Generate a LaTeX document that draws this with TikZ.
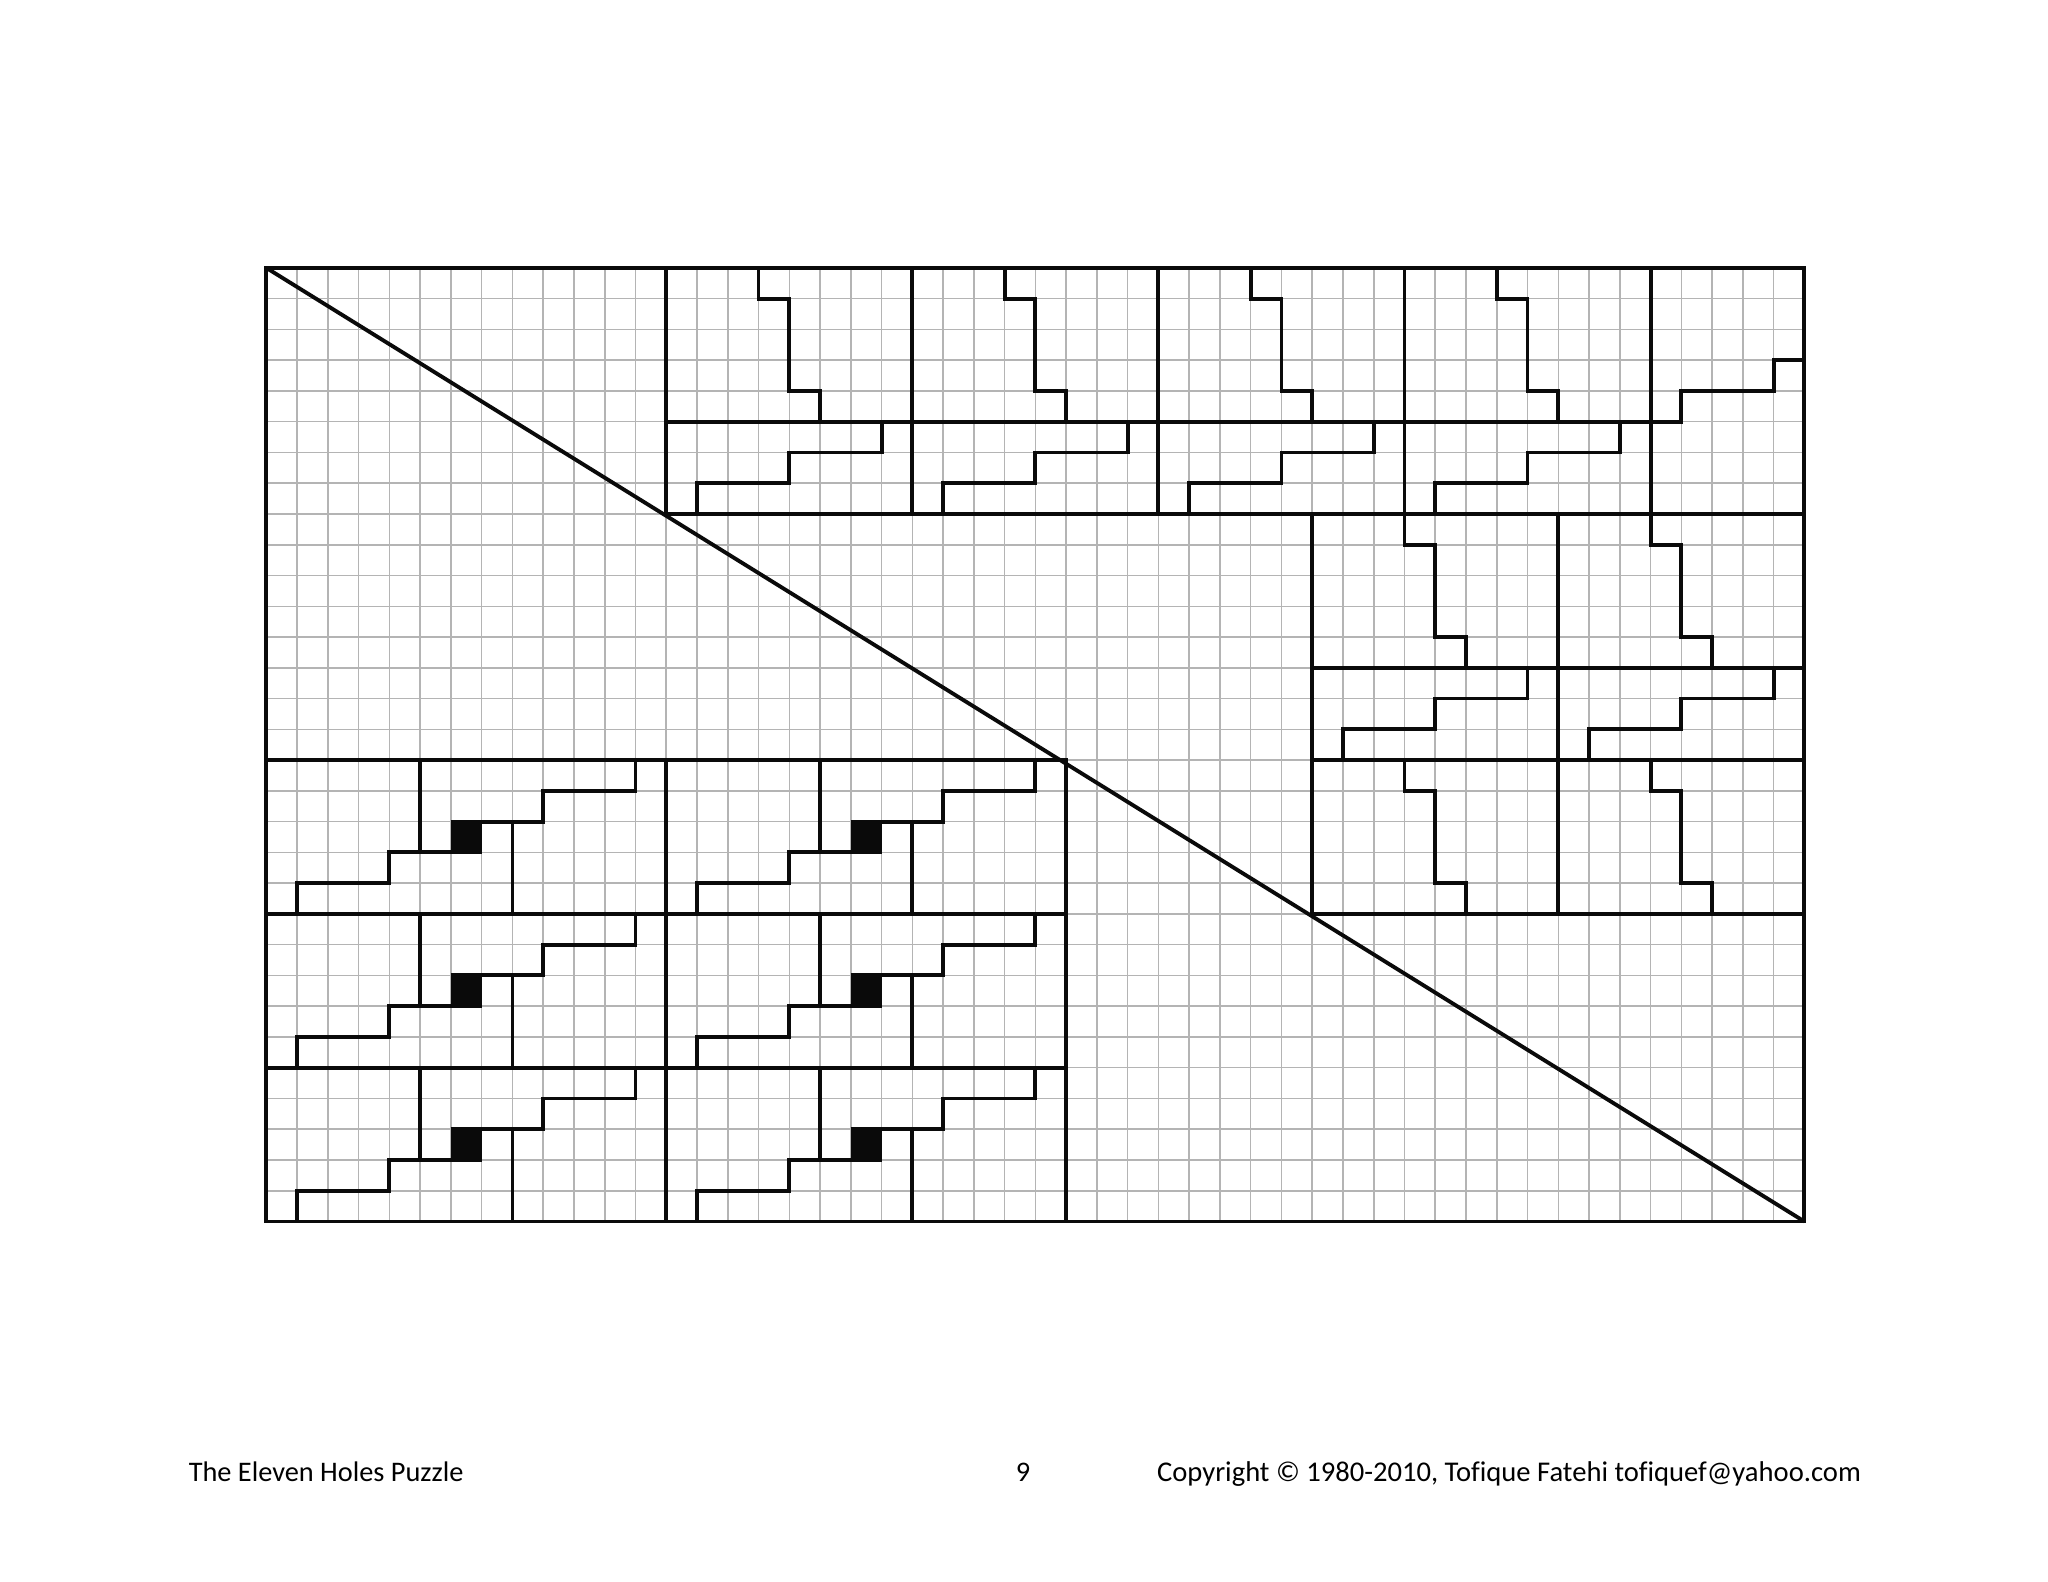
\documentclass[tikz,border=0pt]{standalone}
\usepackage{fontspec}
\setmainfont{Carlito}[Ligatures=CommonOff]
\usepackage{tikz}
\usepackage{xcolor}
\definecolor{gridcolor}{RGB}{180, 180, 180}
\definecolor{cutcolor}{RGB}{10, 10, 10}

\tikzset{
  gridline/.style={gridcolor, line width=0.6pt},
  cutline/.style={cutcolor, line width=1.5pt, line join=miter},
  footertext/.style={anchor=base west, inner sep=0pt, font=\fontsize{11}{13}\selectfont},
}

\begin{document}
\begin{tikzpicture}[x=0.4196cm, y=-0.4196cm]

  \useasboundingbox (-8.66,-8.71) rectangle (57.92,42.72);
  \fill[white] (-8.66,-8.71) rectangle (57.92,42.72);

  % ---------- Squared paper ----------
  \foreach \i in {0,...,50} \draw[gridline] (\i,0) -- (\i,31);
  \foreach \j in {0,...,31} \draw[gridline] (0,\j) -- (50,\j);

  % ---------- Board and diagonal cut ----------
  \draw[cutline] (0,0) rectangle (50,31);
  \draw[cutline] (0,0) -- (50,31);

  % ---------- Top strip: four 8x8 pieces ----------
  \foreach \bx in {13,21,29,37} {
    \begin{scope}[shift={(\bx,0)}]
      \draw[cutline] (0,0) rectangle (8,8);
      \draw[cutline] (0,5) -- (8,5);
      \draw[cutline] (3,0) -- (3,1) -- (4,1) -- (4,4) -- (5,4) -- (5,5);
      \draw[cutline] (1,8) -- (1,7) -- (4,7) -- (4,6) -- (7,6) -- (7,5);
    \end{scope}
  }
  % end piece
  \draw[cutline] (45,0) rectangle (50,8);
  \draw[cutline] (45,5) -- (46,5) -- (46,4) -- (49,4) -- (49,3) -- (50,3);

  % ---------- Right column: two 8x13 pieces ----------
  \foreach \bx in {34,42} {
    \begin{scope}[shift={(\bx,8)}]
      \draw[cutline] (0,0) rectangle (8,13);
      \draw[cutline] (0,5) -- (8,5);
      \draw[cutline] (0,8) -- (8,8);
      \draw[cutline] (3,0) -- (3,1) -- (4,1) -- (4,4) -- (5,4) -- (5,5);
      \draw[cutline] (1,8) -- (1,7) -- (4,7) -- (4,6) -- (7,6) -- (7,5);
      \draw[cutline] (3,8) -- (3,9) -- (4,9) -- (4,12) -- (5,12) -- (5,13);
    \end{scope}
  }

  % ---------- Lower left: six 13x5 pieces with holes ----------
  \foreach \bx in {0,13} {
    \foreach \by in {16,21,26} {
      \begin{scope}[shift={(\bx,\by)}]
        \draw[cutline] (0,0) rectangle (13,5);
        \draw[cutline] (5,0) -- (5,3);
        \draw[cutline] (8,2) -- (8,5);
        \draw[cutline] (1,5) -- (1,4) -- (4,4) -- (4,3) -- (7,3);
        \draw[cutline] (6,2) -- (9,2) -- (9,1) -- (12,1) -- (12,0);
        \fill[cutcolor] (6,2) rectangle (7,3);
      \end{scope}
    }
  }

  % ---------- Footer ----------
  \node[footertext] (title) at (-2.54,39.46) {The Eleven Holes Puzzle};
  \node[footertext] (pagenum) at (24.35,39.46) {9};
  \node[footertext, font=\fontsize{11.1}{13}\selectfont] (copyright) at (28.94,39.46) {Copyright © 1980-2010, Tofique Fatehi tofiquef@yahoo.com};

\end{tikzpicture}
\end{document}
